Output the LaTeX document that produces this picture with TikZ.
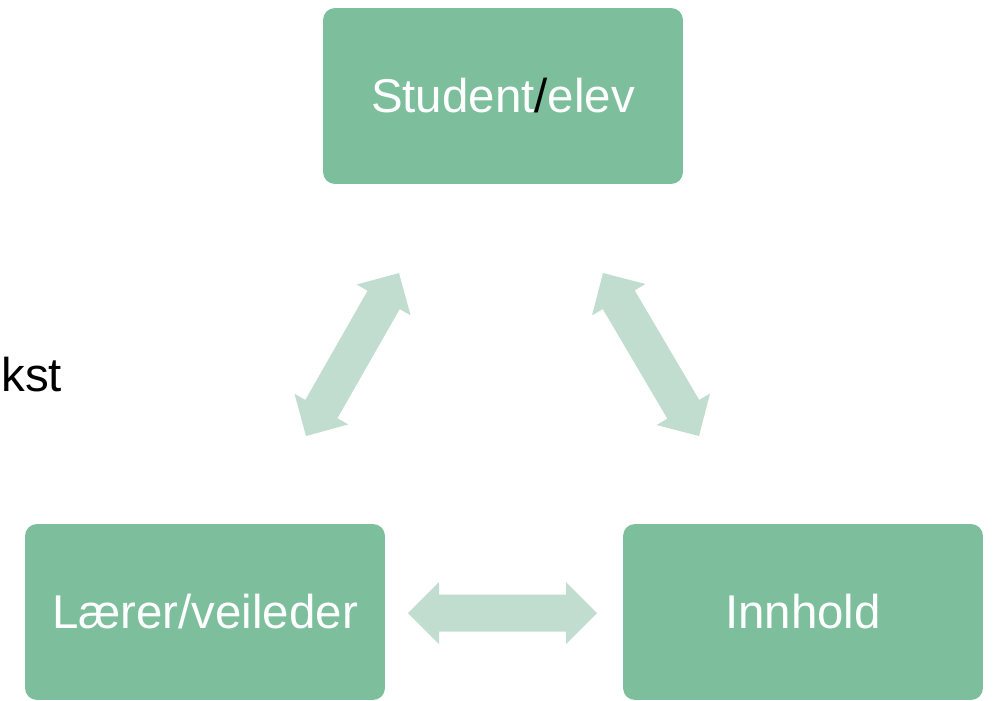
\documentclass[tikz,border=0pt]{standalone}
\usepackage{fontspec}
\setmainfont{Liberation Sans}
\usetikzlibrary{calc}

\definecolor{boxgreen}{HTML}{7DBF9D}
\definecolor{arrowgreen}{HTML}{C1DDCF}

\tikzset{
	rolebox/.style={fill=boxgreen, rounded corners=0.24cm, minimum width=7.2cm,
		minimum height=3.52cm, inner sep=0pt, text=white,
		font=\fontsize{27}{32}\selectfont},
}

% fat double arrow between two named points
\newcommand{\fatarrow}[2]{%
	\fill[arrowgreen] (#1) -- ($(#1)!0.62cm!(#2)!0.62cm!90:(#2)$)
	-- ($(#1)!0.62cm!(#2)!0.37cm!90:(#2)$)
	-- ($(#2)!0.62cm!(#1)!0.37cm!-90:(#1)$)
	-- ($(#2)!0.62cm!(#1)!0.62cm!-90:(#1)$)
	-- (#2)
	-- ($(#2)!0.62cm!(#1)!0.62cm!90:(#1)$)
	-- ($(#2)!0.62cm!(#1)!0.37cm!90:(#1)$)
	-- ($(#1)!0.62cm!(#2)!0.37cm!-90:(#2)$)
	-- ($(#1)!0.62cm!(#2)!0.62cm!-90:(#2)$) -- cycle;}

\begin{document}
\begin{tikzpicture}[x=0.02cm, y=-0.02cm]
	\useasboundingbox (0,0) rectangle (993,700);
	% boxes
	\node[rolebox] (student) at (503,96) {Student\textcolor{black}{/}elev};
	\node[rolebox] (laerer) at (205,612) {Lærer/veileder};
	\node[rolebox] (innhold) at (803,612) {Innhold};
	% context text at the left edge
	\node[anchor=base west, inner sep=0pt, font=\fontsize{27}{32}\selectfont] (kontekst) at (1,391) {kst};
	% arrow ends
	\coordinate (sl1) at (306,436);
	\coordinate (sl2) at (399,273);
	\coordinate (sr1) at (603,273);
	\coordinate (sr2) at (699,436);
	\coordinate (lh1) at (408,613);
	\coordinate (lh2) at (597,613);
	% arrows
	\fatarrow{sl1}{sl2}
	\fatarrow{sr1}{sr2}
	\fatarrow{lh1}{lh2}
\end{tikzpicture}
\end{document}
